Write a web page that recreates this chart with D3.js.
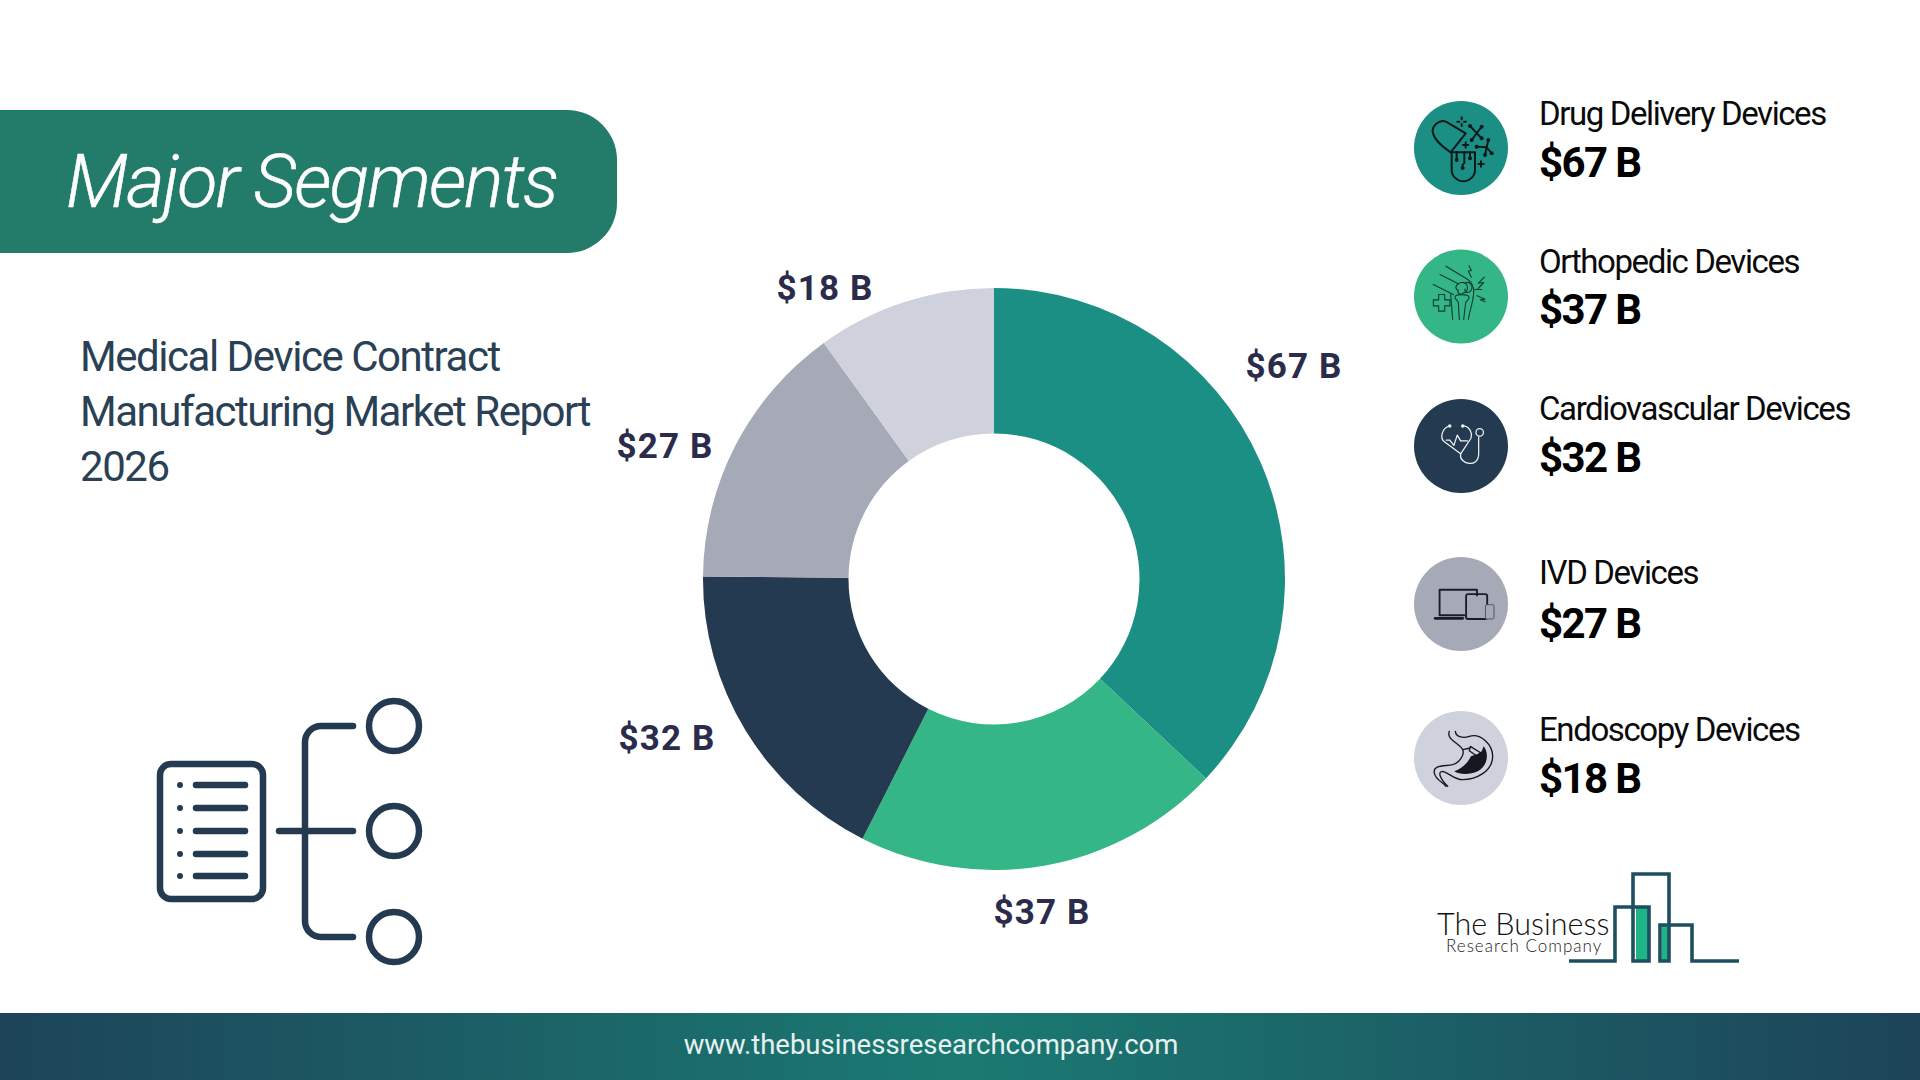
<!DOCTYPE html>
<html><head><meta charset="utf-8">
<script src="https://cdn.jsdelivr.net/npm/d3@7"></script>
<style>html,body{margin:0;padding:0;background:#fff;overflow:hidden}svg{display:block}text{font-family:Roboto,sans-serif}</style>
</head><body>
<svg id="c" width="1920" height="1080"></svg>
<script>
const segments = ["Drug Delivery Devices","Orthopedic Devices","Cardiovascular Devices","IVD Devices","Endoscopy Devices"];
const values = [67,37,32,27,18];
const colors = ["#1c8f85","#34b686","#243a50","#a6aab6","#cfd1dc"];
const labelOffsets = [[300,-214],[48,332],[-327,158],[-329,-134],[-169,-292]];
const subtitleLines = ["Medical Device Contract","Manufacturing Market Report","2026"];
const money = v => `$${v} B`;

const svg = d3.select("#c");
const defs = svg.append("defs");
const fg = defs.append("linearGradient").attr("id","foot");
[["0%","#1d4459"],["50%","#1a7a72"],["100%","#1d4459"]].forEach(s=>fg.append("stop").attr("offset",s[0]).attr("stop-color",s[1]));

// header
svg.append("path").attr("d","M0,110H567A50,50 0 0 1 617,160V203A50,50 0 0 1 567,253H0Z").attr("fill","#237b6a");
svg.append("text").attr("x",66).attr("y",207).attr("font-size",74).attr("font-weight",300).attr("font-style","italic")
  .attr("letter-spacing",-1.95).attr("fill","#fff").attr("stroke","#fff").attr("stroke-width",.5).text("Major Segments");
svg.append("text").attr("font-size",42).attr("fill","#2a4054").attr("letter-spacing",-1.46)
  .selectAll("tspan").data(subtitleLines).join("tspan").attr("x",80).attr("y",(d,i)=>371+i*55).text(d=>d);

// donut
const cx=994, cy=579, R=291, r=145.5;
const pie=d3.pie().sort(null).value(d=>d)(values);
const arc=d3.arc().innerRadius(r).outerRadius(R);
const g=svg.append("g").attr("transform",`translate(${cx},${cy})`);
g.selectAll("path").data(pie).join("path").attr("d",arc).attr("fill",(d,i)=>colors[i]);
g.selectAll("text").data(values).join("text").attr("x",(d,i)=>labelOffsets[i][0]).attr("y",(d,i)=>labelOffsets[i][1]+12.5)
  .attr("text-anchor","middle").attr("font-weight",700).attr("font-size",35).attr("letter-spacing",1.1).attr("fill","#2b2b4b").text(money);

// legend
const rowIconY=[148,296.5,446,604,758], rowNameY=[125,273,420,584,741], rowValY=[177,324,472,638,793];
const leg=svg.append("g");
leg.selectAll("circle").data(values).join("circle").attr("cx",1461).attr("cy",(d,i)=>rowIconY[i]).attr("r",47).attr("fill",(d,i)=>colors[i]);
leg.selectAll("text.n").data(segments).join("text").attr("class","n").attr("x",1539).attr("y",(d,i)=>rowNameY[i])
  .attr("font-size",33).attr("letter-spacing",-1.4).attr("fill","#0a0a0a").text(d=>d);
leg.selectAll("text.v").data(values).join("text").attr("class","v").attr("x",1539).attr("y",(d,i)=>rowValY[i])
  .attr("font-size",42).attr("font-weight",700).attr("letter-spacing",-1.6).attr("fill","#000").text(money);

// icons (drawn in local units centred on each circle)
const icon=(i,col,sw,s)=>svg.append("g").attr("transform",`translate(1461,${rowIconY[i]}) scale(${s})`)
  .attr("fill","none").attr("stroke",col).attr("stroke-width",sw).attr("stroke-linecap","round").attr("stroke-linejoin","round");
const P=(G,d,fill)=>{const p=G.append("path").attr("d",d);if(fill)p.attr("fill",fill).attr("stroke","none");return p};
const dots=(G,pts,rad,col)=>pts.forEach(p=>G.append("circle").attr("cx",p[0]).attr("cy",p[1]).attr("r",rad).attr("fill",col).attr("stroke","none"));

const i1=icon(0,"#0a1a1c",6,1/3);
P(i1,"M-31,13L14,-44L-45,-79C-65,-88-90,-65-84,-45C-80,-25-50,0-31,13Z");
P(i1,"M-28,13H42V65A35,35 0 0 1-28,65Z");
P(i1,"M-13,13V36M10,13V45L5,50V60M27,13V31");
P(i1,"M27,-66L62,-29M62,-64L32,-24");
P(i1,"M47,-4L77,-2L92,16M82,-24L77,-2L72,21");
P(i1,"M14,-17V-1M6,-9H22M60,40V56M52,48H68");
P(i1,"M2,-92V-86M2,-72V-66M-11,-79H-5M9,-79H15");
dots(i1,[[27,-66],[62,-64],[32,-24],[62,-29],[47,-4],[82,-24],[92,16],[72,21],[-13,36],[27,31],[5,60]],6,"#0a1a1c");

const i2=icon(1,"#123d37",3.4,1/3);
P(i2,"M-45,-91L12,-56C25,-50 35,-38 38,-22M-63,-66L-8,-38M-83,-36L-23,-6");
P(i2,"M-8,-38C-20,-30-15,-20-8,-18C-12,-8-2,-4 5,-10C20,-12 25,-30 12,-40C5,-44-2,-42-8,-38Z");
P(i2,"M12,-40C28,-48 38,-30 30,-18C22,-8 10,-12 12,-22");
P(i2,"M-18,2C-18,-8 22,-8 24,2C24,10 18,12 14,18L8,69M-18,2C-18,10-8,12-8,18L-5,69");
P(i2,"M-31,-6L-25,69M38,-22C40,10 28,30 22,69");
P(i2,"M-67,-6H-49V10H-33V28H-49V44H-67V28H-83V10H-67Z");
P(i2,"M24,-92L31,-78L22,-76L31,-58M70,-58L52,-40L68,-42L50,-22M42,-21L62,-21M48,-2L72,8L58,10L72,16");

const i3=icon(2,"#f2f5f7",3.6,.34);
P(i3,"M-33,-59C-58,-52-63,-22-48,-12L-1,23L29,-22C35,-42 22,-59 5,-59");
P(i3,"M-1,23C-8,53 52,68 52,23V-27");
P(i3,"M-43,-17H-33L-21,-2L-11,-32L-1,-15H19");
i3.append("circle").attr("cx",55).attr("cy",-40).attr("r",11);
dots(i3,[[-33,-59],[5,-59]],5,"#f2f5f7");

const i4=icon(3,"#1a1d28",5.5,.34);
P(i4,"M10,33H-63V-42H47V-25");
P(i4,"M-76,42H5").attr("stroke-width",8);
i4.append("rect").attr("x",15).attr("y",-29).attr("width",62).attr("height",73).attr("rx",6);
i4.append("rect").attr("x",72).attr("y",2).attr("width",25).attr("height",42).attr("rx",3).attr("stroke","#4a4e5c").attr("stroke-width",2.6).attr("fill","#a6aab6");

const i5=icon(4,"#15171f",4,1/3);
P(i5,"M-17,-80C-15,-60 10,-60 25,-65C60,-75 95,-40 95,-5C95,40 45,65 5,65C-20,65-35,45-55,40C-70,40-65,60-40,85");
P(i5,"M-35,-80C-45,-55-5,-45 5,-25C12,-10-5,15-25,20C-50,25-85,20-80,45C-78,65-50,75-45,85");
P(i5,"M68,-35C85,-15 80,25 50,40C25,52-5,50-20,40C5,30 20,15 30,-5L50,-12L62,-20Z","#15171f");
P(i5,"M28,-35L60,-15L48,-5L25,-22ZM5,-25L28,-30");

// list icon
const li=svg.append("g").attr("fill","none").attr("stroke","#243a50").attr("stroke-width",6.5).attr("stroke-linecap","round");
li.append("rect").attr("x",160).attr("y",764).attr("width",103).attr("height",135).attr("rx",11);
[785,808,831,854,876].forEach(y=>{li.append("line").attr("x1",196).attr("x2",245).attr("y1",y).attr("y2",y);li.append("circle").attr("cx",180).attr("cy",y).attr("r",3).attr("fill","#243a50").attr("stroke","none")});
li.append("path").attr("d","M353,726H321A16,16 0 0 0 305,742V921A16,16 0 0 0 321,937H353M279,831H353");
[726,831,937].forEach(y=>li.append("circle").attr("cx",394).attr("cy",y).attr("r",25));

// logo
const lg=svg.append("g");
lg.append("rect").attr("x",1636).attr("y",907).attr("width",12).attr("height",54).attr("fill","#1fb488");
lg.append("rect").attr("x",1662).attr("y",925).attr("width",6).attr("height",36).attr("fill","#1fb488");
lg.append("path").attr("d","M1569,961H1615V907H1649V961H1633V874H1669V961H1660V925H1692V961H1739").attr("fill","none").attr("stroke","#1e4f5f").attr("stroke-width",3.6);
lg.append("text").attr("x",1437).attr("y",935).attr("font-size",30.5).attr("font-weight",300).style("font-family","Lato,sans-serif").attr("fill","#111").text("The Business");
lg.append("text").attr("x",1446).attr("y",952).attr("font-size",17).attr("font-weight",300).style("font-family","Lato,sans-serif").attr("letter-spacing",1).attr("fill","#222").text("Research Company");

// footer
svg.append("rect").attr("x",0).attr("y",1013).attr("width",1920).attr("height",67).attr("fill","url(#foot)");
svg.append("text").attr("x",931).attr("y",1054).attr("text-anchor","middle").attr("font-size",27.5).attr("fill","#e8f1f1").text("www.thebusinessresearchcompany.com");
</script>
</body></html>
